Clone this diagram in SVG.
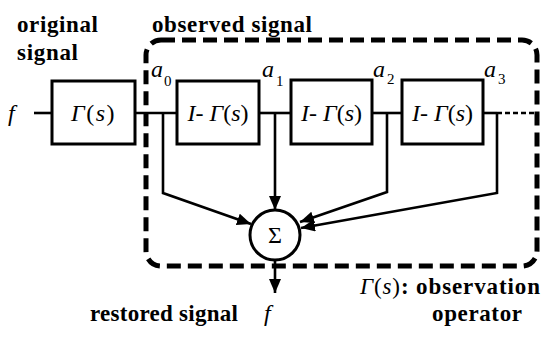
<svg xmlns="http://www.w3.org/2000/svg" width="541" height="338" viewBox="0 0 541 338">
<defs>
<style>
.lbl{font-size:23px;font-weight:bold}
.math{font-size:24px}
.it{font-style:italic}
.sub{font-size:15px}
.box{fill:#fff;stroke:#000;stroke-width:3}
.wire{fill:none;stroke:#000;stroke-width:2.6}
.dot{fill:none;stroke:#000;stroke-width:2.6;stroke-dasharray:5 3}
.frame{fill:none;stroke:#000;stroke-width:5;stroke-dasharray:14 7}
</style>
<marker id="ah" viewBox="0 0 14 12" refX="14" refY="6" markerWidth="14" markerHeight="12" markerUnits="userSpaceOnUse" orient="auto">
<path d="M0,0 L14,6 L0,12 Z" fill="#000"/>
</marker>
</defs>
<rect width="541" height="338" fill="#fff"/>

<g id="frame">
<rect class="frame" x="146" y="40" width="391" height="226" rx="15" ry="15"/>
</g>

<g font-family="Liberation Serif, Times New Roman, serif">
<g id="labels">
<text class="lbl" x="17" y="32" textLength="81" lengthAdjust="spacing">original</text>
<text class="lbl" x="17" y="60" textLength="61" lengthAdjust="spacing">signal</text>
<text class="lbl" x="152" y="32" textLength="160" lengthAdjust="spacing">observed signal</text>
<text class="lbl" x="90" y="321" textLength="148" lengthAdjust="spacing">restored signal</text>
<text class="math it" x="264" y="321">f</text>
<text class="lbl" x="360" y="294" textLength="180" lengthAdjust="spacing"><tspan class="it" font-weight="normal">Γ</tspan><tspan font-weight="normal">(</tspan><tspan class="it" font-weight="normal">s</tspan><tspan font-weight="normal">)</tspan>: observation</text>
<text class="lbl" x="432" y="321" textLength="90" lengthAdjust="spacing">operator</text>
<text class="math it" x="8" y="121">f</text>
</g>

<g id="taps">
<text class="math it" x="151" y="77">a</text><text class="sub" x="164" y="86">0</text>
<text class="math it" x="262" y="77">a</text><text class="sub" x="276" y="86">1</text>
<text class="math it" x="373" y="77">a</text><text class="sub" x="387" y="84">2</text>
<text class="math it" x="484" y="77">a</text><text class="sub" x="498" y="84">3</text>
</g>
</g>

<g id="connectors">
<path class="wire" d="M34,113 H52"/>
<path class="wire" d="M135,113 H177"/>
<path class="wire" d="M259,113 H291"/>
<path class="wire" d="M372,113 H402"/>
<path class="wire" d="M483,113 H497"/>
<path class="dot" d="M497,113 H535"/>
<path class="wire" d="M163,113 V193 L251,224" marker-end="url(#ah)"/>
<path class="wire" d="M275,113 V210" marker-end="url(#ah)"/>
<path class="wire" d="M387,113 V192 L300,222" marker-end="url(#ah)"/>
<path class="wire" d="M497,113 V193 L301,228" marker-end="url(#ah)"/>
<path class="wire" d="M275,260 V293" marker-end="url(#ah)"/>
</g>

<g font-family="Liberation Serif, Times New Roman, serif">
<g id="gamma">
<rect class="box" x="52" y="81" width="83" height="63"/>
<text class="math" x="93.5" y="121" text-anchor="middle" letter-spacing="1.5"><tspan class="it">Γ</tspan>(<tspan class="it">s</tspan>)</text>
</g>
<g id="block1">
<rect class="box" x="177" y="81" width="82" height="63"/>
<text class="math" x="218" y="121" text-anchor="middle"><tspan class="it">I</tspan>- <tspan class="it">Γ</tspan>(<tspan class="it">s</tspan>)</text>
</g>
<g id="block2">
<rect class="box" x="291" y="80" width="81" height="64"/>
<text class="math" x="331.5" y="121" text-anchor="middle"><tspan class="it">I</tspan>- <tspan class="it">Γ</tspan>(<tspan class="it">s</tspan>)</text>
</g>
<g id="block3">
<rect class="box" x="402" y="80" width="81" height="64"/>
<text class="math" x="442.5" y="121" text-anchor="middle"><tspan class="it">I</tspan>- <tspan class="it">Γ</tspan>(<tspan class="it">s</tspan>)</text>
</g>
<g id="sum">
<circle cx="275" cy="235" r="25" fill="#fff" stroke="#000" stroke-width="3"/>
<text class="math" x="275" y="243" text-anchor="middle" font-size="22">Σ</text>
</g>
</g>
</svg>
